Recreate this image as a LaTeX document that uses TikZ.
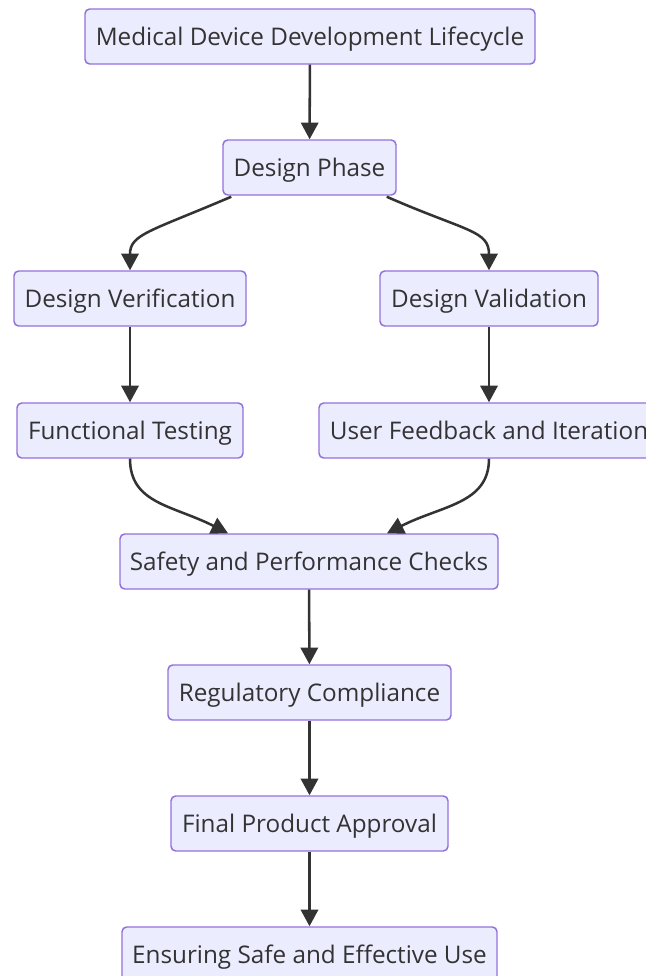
\documentclass[tikz,border=0pt]{standalone}
\usepackage{fontspec}
\setmainfont{Open Sans}
\usetikzlibrary{arrows.meta,calc}
\definecolor{boxfill}{HTML}{ECECFF}
\definecolor{boxline}{HTML}{9370DB}
\definecolor{ink}{HTML}{333333}
\tikzset{
  stage/.style={draw=boxline, fill=boxfill, line width=1.1pt, rounded corners=3.5pt,
    minimum height=41.25pt, inner sep=0pt, text=ink, text height=13.6pt, text depth=0pt,
    font=\fontsize{18.2pt}{21pt}\selectfont},
  flow/.style={draw=ink, line width=1.9pt, -{Triangle[length=12.5pt,width=13pt]}}
}
\begin{document}
\begin{tikzpicture}[x=0.75pt, y=-0.75pt]
  \useasboundingbox (0,0) rectangle (646,976);
  \clip (0,0) rectangle (646,976);
  % stages of the lifecycle
  \node[stage, minimum width=337.5pt] (top) at (310,36.5) {Medical Device Development Lifecycle};
  \node[stage, minimum width=129.75pt] (dp) at (309.5,167.5) {Design Phase};
  \node[stage, minimum width=174pt] (dv) at (130,298.5) {Design Verification};
  \node[stage, minimum width=163.5pt] (dval) at (489,298.5) {Design Validation};
  \node[stage, minimum width=169.5pt] (ft) at (130,430.5) {Functional Testing};
  \node[stage, minimum width=255pt] (uf) at (489,430.5) {User Feedback and Iteration};
  \node[stage, minimum width=283.5pt] (sp) at (309,561.5) {Safety and Performance Checks};
  \node[stage, minimum width=212.25pt] (rc) at (309.5,692.5) {Regulatory Compliance};
  \node[stage, minimum width=207.75pt] (fa) at (309.5,823.5) {Final Product Approval};
  \node[stage, minimum width=281.25pt] (eu) at (309.5,954.5) {Ensuring Safe and Effective Use};
  % connectors
  \draw[flow] (top) -- (dp);
  \draw[flow] ($(dp.south west)+(9,1)$) .. controls +(-82,35) and +(0,-36) .. (dv.north);
  \draw[flow] ($(dp.south east)+(-10,1)$) .. controls +(80,35) and +(0,-40) .. (dval.north);
  \draw[flow] (dv) -- (ft);
  \draw[flow] (dval) -- (uf);
  \draw[flow] (ft.south) .. controls +(0,45) and +(-55,-28) .. ($(sp.north)+(-81,0)$);
  \draw[flow] (uf.south) .. controls +(0,45) and +(55,-28) .. ($(sp.north)+(78,0)$);
  \draw[flow] (sp) -- (rc);
  \draw[flow] (rc) -- (fa);
  \draw[flow] (fa) -- (eu);
\end{tikzpicture}
\end{document}
